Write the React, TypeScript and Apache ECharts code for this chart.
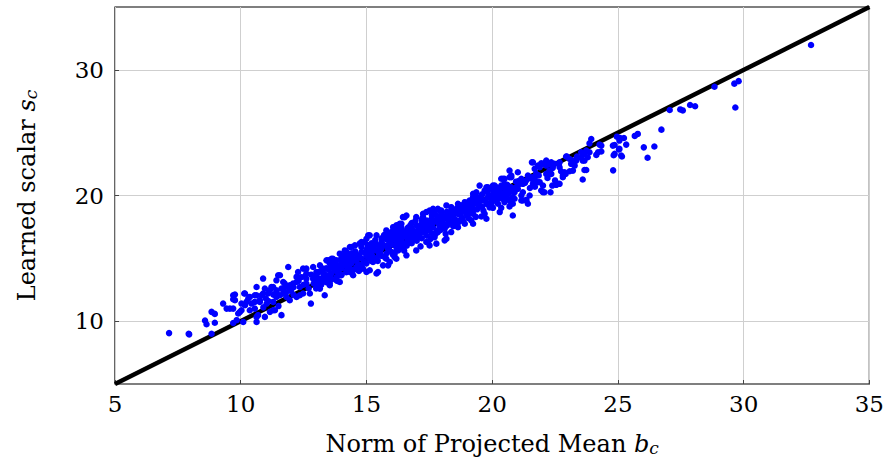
import React, { useEffect, useRef } from "react";
import * as echarts from "echarts";

// ---- Data (x: norm of projected mean b_c, y: learned scalar s_c) ----
const xTicks = [5, 10, 15, 20, 25, 30, 35];
const yTicks = [10, 20, 30];

const lowTail: number[][] = [
  [7.15, 9.05], [7.93, 9.0], [7.95, 8.95], [8.84, 9.0], [8.58, 10.05], [8.64, 9.75], [8.97, 9.87],
  [8.84, 10.74], [8.97, 10.58], [9.3, 11.4], [9.44, 11.0], [9.57, 11.0], [9.7, 11.0], [9.7, 11.74],
  [9.77, 12.12], [9.7, 12.06], [9.77, 11.67], [9.7, 9.85], [9.84, 10.08], [10.1, 9.94], [9.9, 10.61],
  [9.97, 10.74], [10.03, 10.87], [10.03, 11.4], [10.17, 11.27], [10.14, 12.2], [10.17, 12.2],
  [10.3, 11.8], [10.23, 11.53], [10.36, 11.93], [10.43, 11.4], [10.36, 10.87],
];

const lowerBand: number[][] = [
  [10.63, 12.72], [10.56, 12.06], [10.63, 12.06], [10.56, 11.0], [10.56, 11.53], [10.69, 10.48],
  [10.63, 10.34], [10.96, 10.34], [10.63, 9.94], [10.76, 11.53], [10.76, 11.67], [10.83, 12.06],
  [10.96, 12.59], [10.89, 13.39], [10.89, 12.2], [11.09, 12.2], [11.22, 12.72], [11.29, 11.53],
  [11.16, 10.74], [11.29, 10.87], [11.36, 10.87], [11.62, 10.48], [11.03, 11.4], [11.16, 12.46],
  [11.29, 12.72], [11.42, 13.25], [11.49, 13.65], [11.56, 13.65], [11.62, 12.59], [11.42, 12.33],
  [11.56, 12.06], [11.69, 13.12], [11.75, 12.99], [11.69, 12.2], [11.89, 14.31], [11.95, 12.46],
  [11.95, 11.67], [11.95, 12.86], [12.08, 12.99], [12.22, 13.52], [12.28, 13.91], [12.48, 14.18],
  [12.61, 13.79], [12.35, 12.72], [12.61, 12.99], [12.48, 12.2], [12.22, 11.93], [12.22, 13.12],
  [12.79, 11.4], [11.69, 12.59], [11.42, 12.46], [11.42, 11.93], [11.82, 11.93], [12.35, 12.06],
  [12.75, 12.2], [12.88, 14.31], [12.61, 14.18], [12.88, 13.38], [12.61, 13.38], [11.0, 11.8],
  [11.5, 11.2], [12.0, 12.4], [12.4, 13.5], [12.7, 12.6],
  [11.1, 11.6], [11.3, 12.1], [11.8, 12.3], [12.1, 12.7], [12.3, 13.2], [12.5, 12.9], [12.9, 13.0],
  [12.1, 12.1], [11.85, 12.75], [12.55, 13.55], [12.8, 13.7], [10.9, 11.1],
];

const coreEdges: number[][] = [
  [13.01, 13.91], [13.27, 14.05], [13.54, 14.58], [13.81, 14.84], [14.07, 15.24], [14.21, 15.5],
  [13.01, 13.12], [13.34, 12.06], [13.54, 12.99], [13.81, 13.25], [14.0, 13.65], [14.21, 14.05],
  [13.74, 14.05], [13.27, 13.25], [13.01, 12.72], [13.15, 14.44], [13.41, 14.84], [13.61, 14.97],
  [13.94, 15.37], [14.14, 15.63], [14.34, 15.9], [14.54, 16.03], [14.8, 16.29], [15.0, 16.56],
  [15.13, 16.83], [15.4, 16.83], [15.79, 17.22], [16.06, 17.48], [16.26, 17.62], [16.32, 17.75],
  [16.45, 18.28], [16.59, 18.41], [16.98, 18.28], [17.25, 18.55], [17.38, 18.68], [17.65, 18.94],
  [17.91, 18.81], [18.18, 19.21], [18.71, 19.07], [19.04, 19.34], [19.24, 19.87], [19.5, 20.79],
  [19.83, 20.66], [20.16, 20.13], [19.37, 20.26], [19.3, 20.0], [19.7, 20.4], [19.97, 20.53],
  [20.1, 20.79], [19.7, 18.55], [19.24, 18.55], [18.58, 17.75], [17.91, 17.75], [18.18, 16.56],
  [17.78, 16.17], [17.38, 16.3], [16.98, 15.63], [16.59, 15.24], [16.19, 14.97], [15.93, 14.71],
  [15.46, 13.91], [15.13, 14.05], [14.73, 14.31], [14.47, 14.05], [13.94, 13.65], [15.4, 13.79],
  [15.0, 13.91], [14.47, 13.65], [13.94, 13.12], [13.54, 12.86], [13.15, 12.59], [14.34, 13.91],
  [14.6, 14.31], [14.86, 14.18], [16.52, 18.28], [16.39, 17.75], [16.12, 17.48], [15.99, 17.09],
  [15.86, 16.96], [15.79, 16.69], [17.18, 17.62], [17.05, 17.22], [16.92, 16.96], [16.79, 16.69],
  [16.65, 16.43], [16.52, 16.17], [16.39, 15.9], [16.26, 15.63], [16.12, 15.37], [18.11, 17.36],
  [17.84, 17.09], [17.71, 16.69], [17.45, 16.3], [17.51, 16.03], [18.11, 16.43], [18.37, 17.09],
  [18.64, 17.48], [18.91, 17.75], [19.17, 18.02], [18.37, 18.55], [18.64, 18.55], [18.91, 18.81],
  [19.04, 19.07], [19.17, 19.34], [18.91, 19.47], [18.77, 19.21], [18.64, 19.34], [18.37, 19.07],
  [17.98, 18.81], [17.84, 18.94], [17.71, 18.68], [17.51, 18.81], [17.25, 18.28], [19.77, 18.15],
  [19.57, 18.33], [19.17, 18.68], [19.24, 17.75], [19.97, 19.74], [20.23, 19.34], [20.3, 18.68],
  [16.19, 17.62], [16.06, 17.09], [16.26, 16.56], [16.26, 15.77], [16.12, 15.1], [15.86, 14.44],
  [15.07, 16.83], [14.93, 16.29], [14.73, 16.17], [14.4, 15.9], [13.67, 14.97], [13.48, 14.84],
  [13.27, 14.18], [15.53, 15.77], [15.13, 15.24], [14.6, 14.97], [14.21, 14.71], [13.81, 14.18],
  [13.41, 13.65], [15.79, 14.97], [15.66, 14.44], [15.26, 14.71],
];

const coreFill: number[][] = [
  [13.0, 12.6], [13.0, 13.2], [13.0, 13.7], [13.2, 12.9], [13.2, 13.4], [13.2, 14.0],
  [13.4, 13.1], [13.4, 13.6], [13.4, 14.2], [13.6, 13.3], [13.6, 13.8], [13.6, 14.3],
  [13.8, 13.5], [13.8, 14.0], [13.8, 14.5], [14.0, 13.7], [14.0, 14.2], [14.0, 14.7], [14.0, 15.0],
  [14.2, 13.9], [14.2, 14.4], [14.2, 14.9], [14.4, 14.1], [14.4, 14.6], [14.4, 15.1], [14.4, 15.4],
  [14.6, 14.2], [14.6, 14.8], [14.6, 15.3], [14.8, 14.4], [14.8, 15.0], [14.8, 15.5], [14.8, 15.9],
  [15.0, 14.6], [15.0, 15.2], [15.0, 15.7], [15.2, 14.8], [15.2, 15.4], [15.2, 15.9], [15.2, 16.2],
  [15.4, 15.0], [15.4, 15.6], [15.4, 16.1], [15.6, 15.2], [15.6, 15.8], [15.6, 16.3], [15.6, 16.6],
  [15.8, 15.4], [15.8, 16.0], [15.8, 16.5], [16.0, 15.5], [16.0, 16.1], [16.0, 16.7], [16.0, 17.0],
  [16.2, 15.7], [16.2, 16.3], [16.2, 16.9], [16.4, 15.9], [16.4, 16.5], [16.4, 17.1], [16.4, 17.4],
  [16.6, 16.0], [16.6, 16.7], [16.6, 17.2], [16.8, 16.2], [16.8, 16.9], [16.8, 17.4], [16.8, 17.8],
  [17.0, 16.4], [17.0, 17.1], [17.0, 17.6], [17.2, 16.6], [17.2, 17.3], [17.2, 17.8], [17.2, 18.1],
  [17.4, 16.8], [17.4, 17.5], [17.4, 18.0], [17.6, 17.0], [17.6, 17.7], [17.6, 18.2],
  [17.8, 17.2], [17.8, 17.9], [17.8, 18.4], [18.0, 17.4], [18.0, 18.0], [18.0, 18.5],
  [18.2, 17.6], [18.2, 18.2], [18.2, 18.7], [18.4, 17.8], [18.4, 18.4], [18.4, 18.9],
  [18.6, 18.0], [18.6, 18.6], [18.6, 19.0], [18.8, 18.2], [18.8, 18.8], [18.8, 19.2],
  [19.0, 18.4], [19.0, 19.0], [19.0, 19.4], [19.2, 18.6], [19.2, 19.2], [19.2, 19.6],
  [19.4, 18.9], [19.4, 19.4], [19.4, 19.8], [19.6, 19.1], [19.6, 19.6], [19.6, 20.1],
  [19.8, 19.3], [19.8, 19.8], [19.8, 20.3],
  [13.1, 13.0], [13.1, 13.9], [13.5, 13.4], [13.5, 14.1], [13.9, 13.8], [13.9, 14.3],
  [14.3, 14.3], [14.3, 14.8], [14.7, 14.5], [14.7, 15.2], [15.1, 15.0], [15.1, 15.6],
  [15.5, 15.3], [15.5, 16.0], [15.9, 15.7], [15.9, 16.4], [16.3, 16.0], [16.3, 16.8],
  [16.7, 16.5], [16.7, 17.1], [17.1, 16.9], [17.1, 17.5], [17.5, 17.3], [17.5, 17.9],
  [17.9, 17.6], [17.9, 18.2], [18.3, 18.0], [18.3, 18.6], [18.7, 18.5], [18.7, 19.0],
  [19.1, 18.8], [19.1, 19.3], [19.5, 19.2], [19.5, 19.7],
];

const coreFill2: number[][] = [
  [13.05, 13.45], [13.3, 13.75], [13.55, 13.6], [13.7, 14.6], [13.85, 13.2], [14.05, 14.45],
  [14.25, 15.15], [14.35, 13.95], [14.5, 14.85], [14.55, 15.55], [14.7, 14.0], [14.9, 14.75],
  [14.95, 15.45], [15.05, 16.05], [15.25, 15.15], [15.3, 15.75], [15.35, 16.45], [15.45, 14.8],
  [15.55, 15.5], [15.65, 16.1], [15.7, 16.85], [15.75, 15.05], [15.85, 15.8], [15.95, 16.25],
  [16.05, 15.3], [16.1, 16.55], [16.15, 16.0], [16.25, 17.2], [16.35, 16.15], [16.45, 16.75],
  [16.5, 15.6], [16.55, 16.95], [16.65, 17.45], [16.7, 16.25], [16.75, 17.65], [16.85, 16.6],
  [16.9, 17.15], [16.95, 18.0], [17.05, 16.75], [17.1, 17.35], [17.15, 15.95], [17.3, 17.05],
  [17.35, 17.7], [17.45, 17.25], [17.55, 16.55], [17.6, 18.45], [17.65, 17.45], [17.7, 17.95],
  [17.75, 16.95], [17.85, 18.15], [17.95, 17.25], [18.05, 17.75], [18.1, 18.3], [18.15, 16.95],
  [18.25, 17.9], [18.3, 18.45], [18.45, 17.55], [18.5, 18.15], [18.55, 18.75], [18.65, 17.85],
  [18.75, 18.45], [18.85, 17.95], [18.95, 18.65], [19.05, 18.2], [19.1, 19.6], [19.25, 18.95],
  [19.3, 19.4], [19.35, 18.3], [19.45, 19.05], [19.55, 19.95], [19.65, 18.8], [19.75, 19.5],
  [19.85, 20.05], [19.9, 19.05], [20.0, 19.55], [20.05, 20.25], [20.2, 19.95], [20.25, 20.4],
  [20.4, 19.75], [20.45, 20.6], [20.55, 19.9], [20.6, 20.85],
];

const upperBand: number[][] = [
  [20.36, 21.33], [20.76, 21.45], [20.49, 20.93], [20.76, 20.66], [20.63, 20.13], [20.82, 19.87],
  [20.76, 19.34], [20.82, 18.41], [20.3, 19.87], [20.49, 20.0], [20.63, 19.74], [19.9, 20.0],
  [20.1, 19.87], [21.49, 20.0], [21.35, 19.6], [21.16, 19.6], [21.22, 20.26], [21.02, 20.53],
  [20.89, 20.26], [20.69, 21.98], [21.02, 21.85], [20.76, 21.59], [20.43, 21.33], [20.36, 20.79],
  [20.16, 20.66], [20.03, 20.79], [19.77, 20.66], [19.24, 20.13], [20.69, 21.45], [20.49, 21.33],
  [20.96, 20.66], [20.82, 20.53], [20.69, 20.26], [20.56, 20.4], [20.42, 20.13], [20.3, 20.53],
  [21.16, 20.0], [21.36, 19.66], [21.42, 19.34], [21.22, 19.6], [20.89, 19.74], [20.82, 19.34],
  [20.69, 19.6], [20.49, 19.47], [20.23, 19.74], [20.1, 19.6], [19.97, 19.34], [20.69, 19.13],
  [20.36, 19.02], [20.03, 19.02], [22.68, 20.93], [22.55, 20.85], [22.39, 20.79], [22.32, 20.26],
  [22.02, 20.79], [21.95, 20.4], [22.02, 20.26], [21.82, 21.06], [21.62, 20.93], [21.55, 21.33],
  [21.42, 21.59], [21.35, 21.19], [21.22, 20.93], [21.16, 21.33], [21.09, 20.93], [22.08, 20.26],
  [21.89, 21.06], [21.69, 21.33], [21.58, 22.64], [21.69, 22.12], [21.75, 21.72], [21.59, 21.45],
  [21.62, 22.64], [21.82, 22.38], [22.02, 22.52], [22.15, 22.78], [22.35, 22.64], [22.48, 22.52],
  [22.68, 22.25], [22.28, 21.98], [22.15, 21.72], [22.41, 22.2], [22.35, 21.72], [22.08, 22.52],
  [21.95, 22.57], [21.89, 22.25], [22.25, 22.52], [22.15, 22.38], [22.74, 21.93], [22.65, 22.52],
  [22.68, 22.64], [22.92, 21.72], [22.81, 21.45], [22.88, 21.85], [22.81, 21.59], [22.61, 20.93],
  [22.97, 23.1], [23.08, 22.9], [23.14, 22.52], [23.28, 22.38], [23.21, 22.78], [23.37, 23.1],
  [23.54, 23.0], [23.67, 22.78], [23.65, 23.3], [23.21, 21.98], [23.08, 21.93], [23.67, 22.03],
  [23.74, 22.03], [23.6, 21.27], [23.87, 23.44], [23.74, 23.57], [23.94, 24.5], [23.87, 24.15],
  [24.27, 24.05], [24.14, 23.23], [23.8, 23.04], [23.6, 22.78], [23.34, 22.78], [22.94, 23.1],
  [24.21, 23.44], [24.34, 23.97], [23.54, 23.44],
  [21.3, 21.0], [21.5, 20.6], [21.05, 21.15], [20.95, 21.1], [21.7, 20.7], [21.85, 21.6],
  [22.2, 21.4], [22.5, 21.2], [20.6, 20.5], [20.3, 20.2], [20.15, 20.4],
];

const highTail: number[][] = [
  [32.68, 31.98], [29.8, 29.1], [29.63, 28.9], [29.67, 27.0], [28.84, 28.65], [27.87, 27.2],
  [28.07, 27.1], [27.48, 26.85], [27.58, 26.77], [27.06, 26.8], [26.73, 25.24], [25.79, 24.9],
  [25.67, 24.74], [26.45, 23.9], [26.03, 23.83], [26.18, 23.0], [25.33, 24.05], [24.96, 24.68],
  [25.09, 24.58], [25.24, 24.58], [25.06, 24.37], [24.87, 24.02], [25.04, 23.67], [24.83, 23.2],
  [25.16, 23.1], [24.81, 22.0], [24.34, 23.5], [24.8, 23.97], [24.87, 23.31], [25.06, 23.71],
  [25.13, 23.18],
];

const refLine: number[][] = [[5, 5], [35, 35]];

const FONT = "DejaVu Serif";

export default function App() {
  const ref = useRef<HTMLDivElement>(null);
  useEffect(() => {
    if (!ref.current) return;
    const chart = echarts.init(ref.current, undefined, { renderer: "svg" });
    const points = [...lowTail, ...lowerBand, ...coreEdges, ...coreFill, ...coreFill2, ...upperBand, ...highTail];
    const labelStyle = { color: "#000", fontFamily: FONT, fontSize: 23 };
    const richName = {
      t: { fontFamily: FONT, fontSize: 24, color: "#000", lineHeight: 30, verticalAlign: "bottom" },
      i: { fontFamily: FONT, fontSize: 24, fontStyle: "italic", color: "#000", lineHeight: 30, verticalAlign: "bottom" },
      s: { fontFamily: FONT, fontSize: 17, fontStyle: "italic", color: "#000", lineHeight: 13, verticalAlign: "bottom" },
    };
    chart.setOption({
      animation: false,
      backgroundColor: "#fff",
      textStyle: { fontFamily: FONT },
      grid: {
        left: 115, right: 17, top: 7, bottom: 80,
        show: true, borderColor: "#000", borderWidth: 1.2, backgroundColor: "transparent",
      },
      xAxis: {
        type: "value", min: 5, max: 35, interval: 5,
        axisLine: { show: false },
        axisTick: { show: true, inside: true, length: 4, lineStyle: { color: "#444" } },
        axisLabel: { ...labelStyle, margin: 8, formatter: (v: number) => (xTicks.includes(v) ? String(v) : "") },
        splitLine: { show: true, lineStyle: { color: "#cfcfcf", width: 1 } },
        name: "{t|Norm of Projected Mean }{i|b}{s|c}",
        nameLocation: "middle",
        nameGap: 42,
        nameTextStyle: { fontFamily: FONT, rich: richName },
      },
      yAxis: {
        type: "value", min: 5, max: 35,
        axisLine: { show: false },
        axisTick: { show: true, inside: true, length: 4, customValues: yTicks, lineStyle: { color: "#444" } },
        axisLabel: { ...labelStyle, margin: 11, customValues: yTicks },
        splitLine: { show: true, lineStyle: { color: "#cfcfcf", width: 1 } },
        name: "{t|Learned scalar }{i|s}{s|c}",
        nameLocation: "middle",
        nameGap: 76,
        nameTextStyle: { fontFamily: FONT, rich: richName },
      },
      series: [
        {
          type: "line",
          data: refLine,
          symbol: "none",
          lineStyle: { color: "#000", width: 4.5 },
          z: 1,
          silent: true,
        },
        {
          type: "scatter",
          data: points,
          symbol: "circle",
          symbolSize: 6.5,
          itemStyle: { color: "#0000ff", opacity: 1 },
          z: 2,
        },
      ],
    });
    return () => chart.dispose();
  }, []);
  return <div ref={ref} style={{ position: "fixed", left: 0, top: 0, width: 887, height: 464 }} />;
}
